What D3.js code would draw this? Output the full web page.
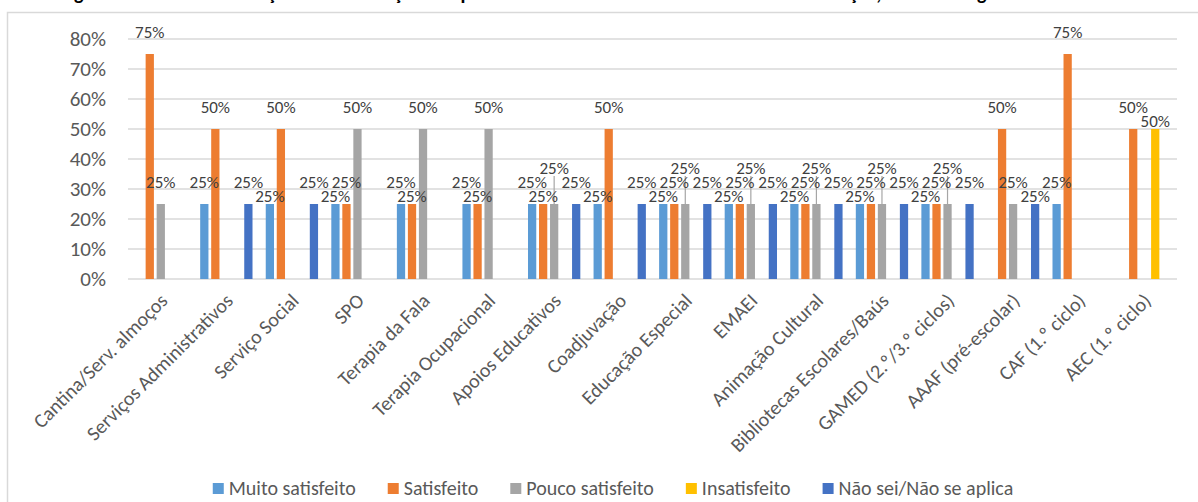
<!DOCTYPE html>
<html><head><meta charset="utf-8">
<script src="https://cdn.jsdelivr.net/npm/d3@7"></script>
<style>
html,body{margin:0;padding:0;background:#fff;}
svg{display:block;}
</style></head>
<body>
<svg id="chart" width="1198" height="502"></svg>
<script>
const titleText = "Figura 5 – Grau de satisfação das associações de pais relativamente ao funcionamento dos serviços, resultados globais";
const categories = ["Cantina/Serv. almoços","Serviços Administrativos","Serviço Social","SPO","Terapia da Fala","Terapia Ocupacional","Apoios Educativos","Coadjuvação","Educação Especial","EMAEI","Animação Cultural","Bibliotecas Escolares/Baús","GAMED (2.º/3.º ciclos)","AAAF (pré-escolar)","CAF (1.º ciclo)","AEC (1.º ciclo)"];
const seriesNames = ["Muito satisfeito","Satisfeito","Pouco satisfeito","Insatisfeito","Não sei/Não se aplica"];
const muitoSatisfeito = [0,25,25,25,25,25,25,25,25,25,25,25,25,0,25,0];
const satisfeito      = [75,50,50,25,25,25,25,50,25,25,25,25,25,50,75,50];
const poucoSatisfeito = [25,0,0,50,50,50,25,0,25,25,25,25,25,25,0,0];
const insatisfeito    = [0,0,0,0,0,0,0,0,0,0,0,0,0,0,0,50];
const naoSei          = [0,25,25,0,0,0,25,25,25,25,25,25,25,25,0,0];
const yTicks = [0,10,20,30,40,50,60,70,80];
const seriesColors = ["#5B9BD5","#ED7D31","#A5A5A5","#FFC000","#4472C4"];

const seriesValues = [muitoSatisfeito, satisfeito, poucoSatisfeito, insatisfeito, naoSei];
const FONT = "Carlito, Lato, 'Liberation Sans', sans-serif";

const svg = d3.select("#chart");
const plot = {left:128, right:1177, top:39, bottom:279};

// title (cut off at top)
svg.append("text").attr("x", 60).attr("y", 0)
  .attr("font-family", FONT).attr("font-size", 20).attr("font-weight", "bold")
  .attr("fill", "#000").text(titleText);

// frame
svg.append("rect").attr("x", 7.5).attr("y", 12.5).attr("width", 1200).attr("height", 500)
  .attr("fill", "#fff").attr("stroke", "#d9d9d9").attr("stroke-width", 1.5);

const x0 = d3.scaleBand().domain(categories).range([plot.left, plot.right]).padding(0);
const groupW = x0.bandwidth() * 0.84;
const x1 = d3.scaleBand().domain(seriesNames).range([-groupW/2, groupW/2]).paddingInner(0.25).paddingOuter(0.125);
const y = d3.scaleLinear().domain([0, 80]).range([plot.bottom, plot.top]);

// gridlines
svg.append("g").selectAll("line").data(yTicks).join("line")
  .attr("x1", plot.left).attr("x2", plot.right)
  .attr("y1", d => y(d)).attr("y2", d => y(d))
  .attr("stroke", "#d9d9d9").attr("stroke-width", 1.5);

// y axis
const yAxis = svg.append("g").attr("transform", `translate(${plot.left - 22},0)`)
  .call(d3.axisLeft(y).tickValues(yTicks).tickFormat(d => d + "%").tickSize(0).tickPadding(0));
yAxis.select(".domain").remove();
yAxis.selectAll("text").attr("font-family", FONT).attr("font-size", 21).attr("fill", "#595959");

// x axis labels
const xAxis = svg.append("g").attr("transform", `translate(0,${plot.bottom})`)
  .call(d3.axisBottom(x0).tickSize(0).tickPadding(0));
xAxis.select(".domain").remove();
xAxis.selectAll(".tick text")
  .attr("font-family", FONT).attr("font-size", 20).attr("fill", "#595959")
  .attr("text-anchor", "end").attr("dy", 0).attr("y", 0)
  .attr("transform", "translate(8,23) rotate(-45)");

// bars
const barData = [];
categories.forEach((c, ci) => {
  seriesNames.forEach((s, si) => {
    const v = seriesValues[si][ci];
    if (v > 0) barData.push({c, s, si, v});
  });
});
svg.append("g").selectAll("rect").data(barData).join("rect")
  .attr("x", d => x0(d.c) + x0.bandwidth()/2 + x1(d.s))
  .attr("y", d => y(d.v))
  .attr("width", x1.bandwidth())
  .attr("height", d => y(0) - y(d.v))
  .attr("fill", d => seriesColors[d.si]);

// data labels with simple collision avoidance
const placed = [];
const LW = 26, LH = 12;
const offsets = [-22, -8, -36];
barData.forEach(d => {
  const cx = x0(d.c) + x0.bandwidth()/2 + x1(d.s) + x1.bandwidth()/2;
  const top = y(d.v);
  let chosen = offsets[0];
  for (const o of offsets) {
    const cy = top + o;
    const hit = placed.some(p => Math.abs(p.x - cx) < LW && Math.abs(p.y - cy) < LH);
    if (!hit) { chosen = o; break; }
  }
  d.lx = cx; d.ly = top + chosen; d.top = top; d.off = chosen;
  placed.push({x: cx, y: d.ly});
});
const lab = svg.append("g");
lab.selectAll("line").data(barData.filter(d => d.off <= -36)).join("line")
  .attr("x1", d => d.lx).attr("x2", d => d.lx)
  .attr("y1", d => d.ly + 8).attr("y2", d => d.top)
  .attr("stroke", "#a6a6a6").attr("stroke-width", 1.2);
lab.selectAll("text").data(barData).join("text")
  .attr("x", d => d.lx).attr("y", d => d.ly)
  .attr("dy", "0.35em").attr("text-anchor", "middle")
  .attr("font-family", FONT).attr("font-size", 17).attr("fill", "#404040")
  .text(d => d.v + "%");

// legend
const leg = svg.append("g").attr("font-family", FONT).attr("font-size", 20).attr("fill", "#595959");
const items = leg.selectAll("g").data(seriesNames).join("g");
items.append("rect").attr("width", 11).attr("height", 11).attr("y", -6)
  .attr("fill", (d, i) => seriesColors[i]);
items.append("text").attr("x", 16).attr("dy", "0.32em").attr("fill", "#595959").text(d => d);
const widths = [];
items.each(function() { widths.push(this.getBBox().width); });
const gap = 32;
const total = d3.sum(widths) + gap * (widths.length - 1);
let startX = 613 - total/2;
items.attr("transform", (d, i) => {
  const xx = startX; startX += widths[i] + gap;
  return `translate(${xx},489)`;
});
</script>
</body></html>
